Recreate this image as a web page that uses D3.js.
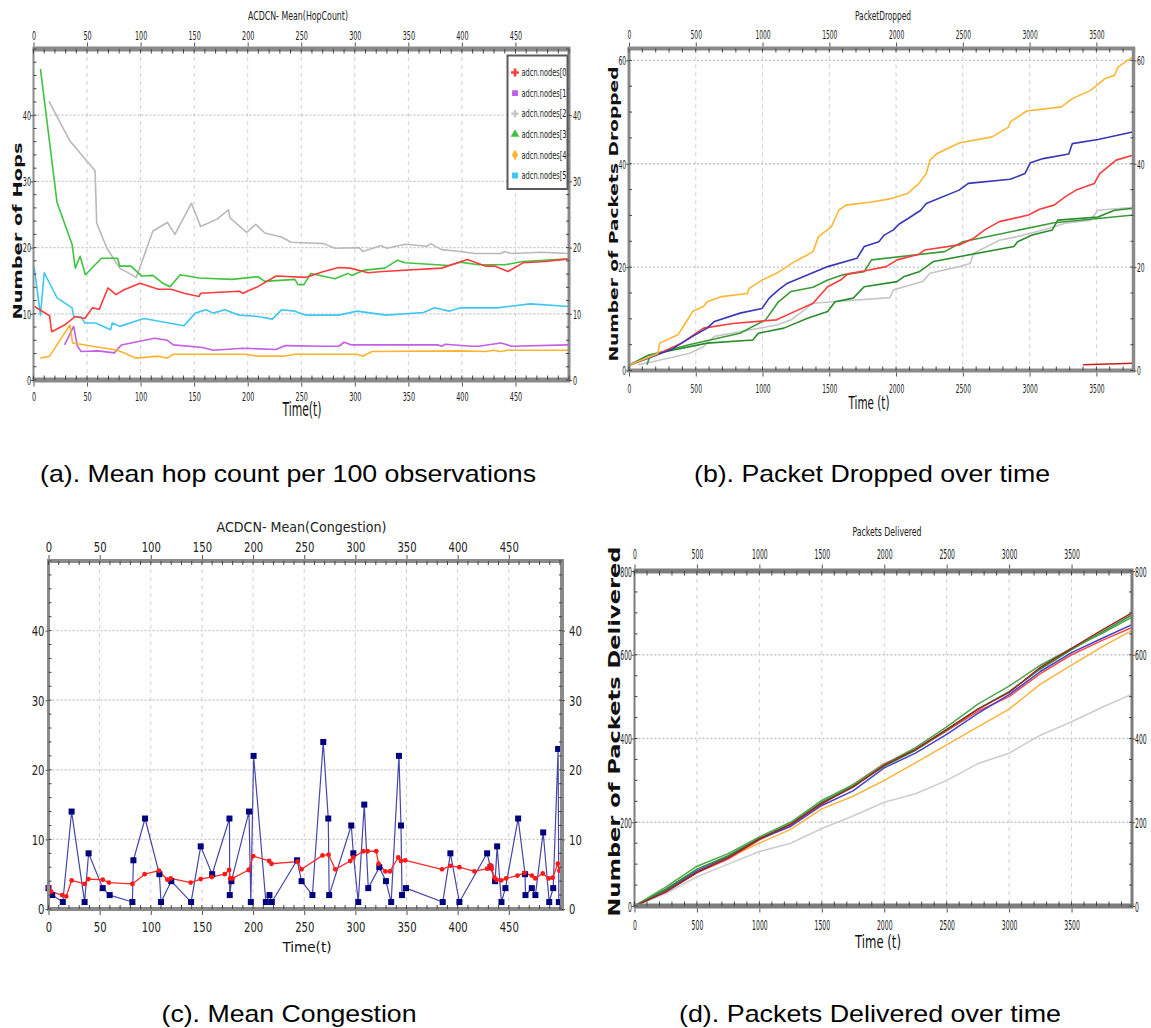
<!DOCTYPE html>
<html>
<head>
<meta charset="utf-8">
<script src="https://cdn.jsdelivr.net/npm/d3@7"></script>
<style>
body { margin: 0; background: #fff; }
svg { display: block; }
</style>
</head>
<body>
<svg id="fig" width="1151" height="1028"></svg>
<script>
// ---------- (a) mean hop count ----------
var hopTicksX = [0, 50, 100, 150, 200, 250, 300, 350, 400, 450];
var hopTicksY = [0, 10, 20, 30, 40];
var hopNames = ["adcn.nodes[0", "adcn.nodes[1", "adcn.nodes[2", "adcn.nodes[3", "adcn.nodes[4", "adcn.nodes[5"];
var hopNode0 = [[1,11.1],[15,9.7],[17,7.3],[29,8.3],[39,9.6],[48,9.3],[55,10.9],[61.5,10.7],[69.5,13.9],[77,12.9],[84,13.6],[99.5,14.6],[116.5,13.7],[128.5,13.7],[140.5,13.1],[154.5,12.6],[156,13.1],[192,13.4],[195.5,13.1],[209.5,14.1],[226.5,15.7],[254,15.5],[271,16.4],[285,17.0],[295.5,16.9],[312.5,16.2],[326,16.4],[381,16.9],[405,18.2],[422.5,17.2],[431,17.2],[443,16.4],[457,17.7],[477.5,17.9],[500,18.3]];
var hopNode1 = [[29,5.3],[37.5,8.1],[41,5.1],[44.5,4.3],[60,4.4],[75.5,4.1],[82,5.3],[113,6.3],[125,6.0],[130.5,5.3],[158,4.9],[168,4.5],[195.5,4.8],[226.5,4.6],[235,5.2],[271,5.1],[285,5.1],[290,5.7],[297,5.3],[378,5.3],[381,5.1],[384.5,5.4],[409,5.1],[415.5,5.1],[436.5,5.6],[446.5,5.1],[500,5.3]];
var hopNode2 = [[14.5,42.1],[34,36.1],[57.5,31.6],[59,23.7],[68.5,19.9],[80.5,16.9],[96,15.5],[111.5,22.5],[125,23.8],[132,22.0],[147.5,26.7],[156,23.2],[171.5,24.3],[182,25.7],[183.5,24.5],[199,22.3],[207.5,23.5],[216,22.2],[231.5,21.6],[240.5,20.8],[271,20.6],[281.5,19.9],[304,20.0],[307.5,19.4],[324.5,20.3],[330,19.9],[347,20.5],[367.5,20.2],[371,20.6],[381,19.7],[398.5,19.4],[412,19.1],[436.5,19.1],[440,19.4],[446.5,19.1],[474,19.3],[500,19.1]];
var hopNode3 = [[6.5,47.0],[22,26.8],[36,20.5],[39,16.9],[43.5,18.7],[48.5,15.9],[63.5,18.4],[78.5,18.4],[80.5,17.2],[91,17.2],[101,15.7],[111.5,15.8],[120,14.7],[127.5,14.1],[137,15.9],[154.5,15.4],[185.5,15.2],[209.5,15.6],[216,14.9],[244,15.2],[247,14.4],[252.5,14.4],[259,16.1],[281.5,15.3],[293.5,16.1],[297,15.8],[309,16.6],[328,16.9],[340,18.1],[347,17.7],[388,17.3],[398.5,17.8],[415.5,17.4],[440,17.4],[457,17.9],[500,18.3]];
var hopNode4 = [[6.5,3.3],[15,3.6],[34,8.3],[36.5,5.6],[78.5,4.5],[96,3.3],[116.5,3.6],[125,3.3],[130.5,3.9],[197.5,3.9],[209.5,3.6],[233.5,3.6],[244,3.9],[302,3.9],[307.5,3.6],[316,4.3],[398.5,4.4],[422.5,4.3],[429.5,4.5],[436.5,4.3],[443,4.5],[500,4.5]];
var hopNode5 = [[0.5,17.2],[6.5,9.8],[10,16.2],[22,12.4],[36,10.9],[37.5,9.6],[44.5,9.5],[48,8.6],[58,8.6],[72,7.6],[73.5,8.6],[80.5,8.1],[103,9.3],[140.5,8.2],[151,10.1],[161,10.6],[168,10.1],[178.5,10.6],[192,9.8],[209.5,9.6],[223,9.2],[231.5,10.6],[244,10.4],[254,9.8],[285,9.8],[302,10.4],[329.5,9.8],[364,10.2],[374.5,10.9],[388,10.4],[398.5,10.9],[433,10.9],[464,11.5],[500,11.1]];

// ---------- (b) packets dropped ----------
var dropTicksX = [0, 500, 1000, 1500, 2000, 2500, 3000, 3500];
var dropTicksY = [0, 20, 40, 60];
var dropOrange = [[0,1.0],[216,3.3],[230,5.3],[366,6.9],[421,9.1],[476,11.4],[558,12.4],[585,13.3],[695,14.3],[886,14.9],[900,15.9],[996,17.5],[1105,18.8],[1242,21.1],[1310,22.0],[1378,23.0],[1419,25.9],[1515,27.8],[1570,31.0],[1625,32.0],[1816,32.6],[1953,33.2],[2090,34.3],[2172,36.2],[2226,38.1],[2254,40.7],[2308,42.0],[2472,44.0],[2719,45.2],[2842,47.1],[2855,48.1],[2978,50.2],[3238,51.0],[3320,52.6],[3457,54.2],[3566,56.5],[3635,57.1],[3662,58.7],[3717,59.7],[3780,60.7]];
var dropBlue = [[0,1.0],[312,4.0],[476,6.6],[585,8.2],[640,9.5],[832,11.1],[996,12.0],[1050,14.0],[1119,15.6],[1187,16.9],[1488,20.1],[1707,21.7],[1762,24.0],[1871,24.9],[1912,26.2],[1980,27.2],[2021,28.3],[2090,29.4],[2185,31.0],[2226,32.3],[2472,34.9],[2541,36.2],[2855,37.0],[2965,38.1],[3006,40.2],[3101,41.0],[3293,41.9],[3320,43.9],[3512,44.7],[3780,46.2]];
var dropRed = [[0,1.0],[175,2.7],[394,5.3],[558,8.2],[777,9.1],[1105,9.8],[1214,11.1],[1378,13.0],[1488,16.2],[1584,17.5],[1639,18.7],[1789,19.4],[1926,20.1],[2008,21.4],[2172,22.5],[2213,23.3],[2472,24.3],[2582,25.6],[2664,27.2],[2773,28.8],[2992,30.1],[3074,31.2],[3183,32.0],[3266,33.6],[3348,34.9],[3485,36.2],[3525,38.1],[3648,40.7],[3780,41.7]];
var dropGreenA = [[134,1.1],[161,3.0],[449,5.0],[831,7.2],[1023,9.8],[1119,13.3],[1214,15.3],[1378,16.1],[1488,17.5],[1597,18.5],[1761,19.1],[1816,21.4],[2363,23.0],[2500,24.9],[3184,28.6],[3780,30.1]];
var dropGreenB = [[0,1.0],[148,3.0],[585,5.3],[927,5.9],[968,7.2],[1160,8.2],[1337,10.1],[1488,11.4],[1543,13.3],[1679,14.0],[1761,16.2],[2007,17.2],[2062,18.2],[2172,19.1],[2281,21.1],[2883,24.0],[2910,24.9],[3019,26.2],[3170,27.2],[3211,29.1],[3512,29.7],[3635,31.0],[3780,31.4]];
var dropGray = [[66,1.1],[175,1.7],[449,3.3],[558,4.6],[640,6.6],[832,7.5],[1105,8.8],[1214,9.8],[1378,13.0],[1953,14.1],[1980,15.6],[2199,17.2],[2254,18.8],[2472,20.1],[2554,20.7],[2582,22.7],[2773,25.2],[2910,25.9],[3101,27.2],[3266,28.5],[3457,29.1],[3512,31.0],[3780,31.6]];
var dropDarkRed = [[3400,1.1],[3780,1.4]];

// ---------- (c) mean congestion ----------
var congTicksX = [0, 50, 100, 150, 200, 250, 300, 350, 400, 450];
var congTicksY = [0, 10, 20, 30, 40];
var congBlue = [[0,3],[3.6,2],[14,1],[22.6,14],[35.3,1],[39.2,8],[53,3],[59.8,2],[82,1],[83,7],[94.4,13],[108.4,5],[110,1],[120,4],[139.4,1],[148.8,9],[160,5],[176.9,13],[177.2,2],[178.8,4],[196,14],[197.8,1],[200.5,22],[212.5,1],[216,2],[218.3,1],[243,7],[247.4,4],[258,2],[268.6,24],[273.5,13],[274.4,2],[296,12],[298,8],[302.8,1],[308.7,15],[312.6,3],[323.4,6],[329.9,4],[335,1],[342.6,22],[344.6,12],[345.6,2],[349.5,3],[385.4,1],[392.9,8],[401.7,1],[428.8,8],[432,6],[436.6,4],[438.6,9],[442.8,1],[446.7,3],[459.1,13],[465.9,5],[466.3,2],[472.5,3],[476,2],[483.6,11],[489.5,1],[493.4,3],[498.2,23],[498.9,1]];
var congRed = [[0,3],[2.6,2.5],[13.4,2.0],[17.3,1.8],[22.6,4.1],[35.3,3.6],[39,4.3],[53,4.2],[59.1,3.8],[82,3.6],[94,5.0],[108,5.5],[116.2,4.2],[119.5,4.4],[139,3.8],[148.8,4.3],[159.6,4.6],[172.3,5.0],[176.6,5.6],[177.6,4.4],[179.9,4.4],[195.6,5.6],[200.1,7.6],[215.7,6.9],[218,6.5],[243.4,6.8],[247.4,5.7],[267.9,7.7],[273.8,7.8],[280.3,5.7],[295,6.9],[297.9,7.4],[307.7,8.3],[311.9,8.3],[320.4,8.3],[322.7,6.5],[329.3,5.4],[333.8,5.4],[341.9,7.4],[344.6,6.9],[348.8,7.0],[384.7,5.7],[392.9,6.2],[401.7,6.0],[416.4,5.4],[428.8,5.8],[432,6.3],[433.3,5.8],[436,4.5],[438,4.2],[442.5,4.1],[447.4,4.4],[458.5,4.8],[465.3,5.2],[472.5,4.8],[475.8,4.4],[483.2,5.1],[489,4.4],[492.9,4.5],[497.9,6.5],[499.5,5.5]];

// ---------- (d) packets delivered ----------
var delivTicksX = [0, 500, 1000, 1500, 2000, 2500, 3000, 3500];
var delivTicksY = [0, 200, 400, 600, 800];
var delivTime   = [0, 250, 500, 750, 1000, 1250, 1500, 1750, 2000, 2250, 2500, 2750, 3000, 3250, 3500, 3750, 3984];
var delivGray   = [0, 30, 70, 100, 130, 150, 185, 215, 248, 268, 300, 340, 365, 408, 440, 475, 506];
var delivOrange = [0, 36, 80, 115, 150, 183, 232, 262, 300, 342, 385, 428, 470, 530, 575, 620, 658];
var delivRed    = [0, 35, 80, 112, 158, 193, 243, 290, 340, 372, 418, 465, 500, 555, 600, 635, 665];
var delivBlue   = [0, 38, 84, 118, 160, 190, 240, 275, 330, 365, 410, 460, 505, 560, 605, 640, 672];
var delivGreenA = [0, 45, 95, 125, 165, 200, 252, 290, 338, 378, 428, 482, 525, 575, 615, 652, 690];
var delivGreenB = [0, 40, 88, 120, 162, 196, 248, 286, 334, 372, 420, 470, 512, 566, 612, 655, 695];
var delivBrown  = [0, 33, 80, 115, 160, 195, 245, 284, 336, 374, 422, 470, 510, 570, 615, 660, 700];

var svg = d3.select("#fig");
var narrow = "'DejaVu Sans Condensed','DejaVu Sans',sans-serif";
var plain = d3.format("d");

function buildPanel(p) {
    var g = svg.append("g");
    var x = d3.scaleLinear().domain(p.xDomain).range([p.left, p.right]);
    var y = d3.scaleLinear().domain(p.yDomain).range([p.bottom, p.top]);

    g.append("g").selectAll("line")
        .data(p.xTicks.filter(function(d) { return d > 0; }))
        .enter().append("line")
            .attr("x1", function(d) { return x(d); })
            .attr("x2", function(d) { return x(d); })
            .attr("y1", p.top).attr("y2", p.bottom)
            .attr("stroke", "#d0d0d0").attr("stroke-dasharray", "4,4");
    g.append("g").selectAll("line")
        .data(p.yTicks.filter(function(d) { return d > 0; }))
        .enter().append("line")
            .attr("x1", p.left).attr("x2", p.right)
            .attr("y1", function(d) { return y(d); })
            .attr("y2", function(d) { return y(d); })
            .attr("stroke", "#c4c4c4").attr("stroke-width", 1.3).attr("stroke-dasharray", "2,2");

    var plot = g.append("g");
    return {g: g, plot: plot, x: x, y: y, p: p};
}

function styleTicks(sel, P, horizontal, offset, anchor) {
    var p = P.p;
    sel.select(".domain").remove();
    sel.selectAll(".tick line").attr("stroke", "#555");
    var t = sel.selectAll(".tick text")
        .attr("font-family", p.font).attr("font-size", p.fontSize)
        .attr("fill", "#222").attr("text-anchor", anchor)
        .attr("textLength", function() { return this.textContent.length * p.digitW; })
        .attr("lengthAdjust", "spacingAndGlyphs");
    if (horizontal) {
        t.attr("y", offset).attr("dy", "0.36em");
    } else {
        t.attr("x", offset).attr("dy", "0.36em");
    }
}

function finishPanel(P) {
    var p = P.p, g = P.g, x = P.x, y = P.y;
    var frame = g.append("g");

    [p.left, p.right].forEach(function(xx, i) {
        frame.append("rect")
            .attr("x", xx - p.side[i] / 2).attr("y", p.top)
            .attr("width", p.side[i]).attr("height", p.bottom - p.top)
            .attr("fill", p.frameColor);
    });
    [p.top, p.bottom].forEach(function(yy) {
        frame.append("rect")
            .attr("x", p.left - p.side[0] / 2).attr("y", yy - p.band / 2)
            .attr("width", p.right - p.left + (p.side[0] + p.side[1]) / 2).attr("height", p.band)
            .attr("fill", p.frameColor);
    });

    // minor ticks on the frame
    var mx = x.ticks(p.xMinor).filter(function(d) { return d <= p.xDomain[1]; });
    var my = y.ticks(p.yMinor);
    [[p.top, 1], [p.bottom, -1]].forEach(function(s) {
        frame.append("g").selectAll("line").data(mx).enter().append("line")
            .attr("x1", function(d) { return x(d); }).attr("x2", function(d) { return x(d); })
            .attr("y1", s[0]).attr("y2", s[0] + s[1] * (p.band / 2 + 2))
            .attr("stroke", "#444").attr("stroke-width", 1);
    });
    [[p.left, 1], [p.right, -1]].forEach(function(s) {
        frame.append("g").selectAll("line").data(my).enter().append("line")
            .attr("y1", function(d) { return y(d); }).attr("y2", function(d) { return y(d); })
            .attr("x1", s[0]).attr("x2", s[0] + s[1] * 3)
            .attr("stroke", "#444").attr("stroke-width", 1);
    });

    var yTop = p.top - p.band / 2, yBot = p.bottom + p.band / 2;
    g.append("g").attr("transform", "translate(0," + yTop + ")")
        .call(d3.axisTop(x).tickValues(p.xTicks).tickFormat(plain).tickSize(4).tickSizeOuter(0))
        .call(styleTicks, P, true, p.topLabelY - yTop, "middle");
    g.append("g").attr("transform", "translate(0," + yBot + ")")
        .call(d3.axisBottom(x).tickValues(p.xTicks).tickFormat(plain).tickSize(4).tickSizeOuter(0))
        .call(styleTicks, P, true, p.bottomLabelY - yBot, "middle");
    g.append("g").attr("transform", "translate(" + p.left + ",0)")
        .call(d3.axisLeft(y).tickValues(p.yTicks).tickFormat(plain).tickSize(3).tickSizeOuter(0))
        .call(styleTicks, P, false, p.leftLabelX - p.left, "end");
    var right = g.append("g").attr("transform", "translate(" + p.right + ",0)")
        .call(d3.axisRight(y).tickValues(p.yTicks).tickFormat(plain).tickSize(3).tickSizeOuter(0))
        .call(styleTicks, P, false, p.rightLabelX - p.right, "start");
    if (p.rightClip) {
        svg.append("clipPath").attr("id", p.id + "-rc").append("rect")
            .attr("x", -10).attr("y", 0).attr("width", p.rightClip - p.right + 10).attr("height", 1028);
        right.attr("clip-path", "url(#" + p.id + "-rc)");
    }

    // titles
    g.append("text").attr("x", p.title[1]).attr("y", p.title[2])
        .attr("text-anchor", "middle").attr("dy", "0.36em")
        .attr("font-family", narrow).attr("font-size", p.title[3]).attr("fill", "#222")
        .attr("textLength", p.title[4]).attr("lengthAdjust", "spacingAndGlyphs")
        .text(p.title[0]);
    g.append("text").attr("x", p.xTitle[1]).attr("y", p.xTitle[2])
        .attr("text-anchor", "middle").attr("dy", "0.36em")
        .attr("font-family", narrow).attr("font-size", p.xTitle[3]).attr("fill", "#111")
        .attr("textLength", p.xTitle[4]).attr("lengthAdjust", "spacingAndGlyphs")
        .text(p.xTitle[0]);
    if (p.yTitle) {
        g.append("text")
            .attr("transform", "translate(" + p.yTitle[1] + "," + p.yTitle[2] + ") rotate(-90)")
            .attr("text-anchor", "middle").attr("dy", "0.36em")
            .attr("font-family", "'DejaVu Sans',sans-serif").attr("font-weight", "bold")
            .attr("font-size", p.yTitle[3]).attr("fill", "#111")
            .attr("textLength", p.yTitle[4]).attr("lengthAdjust", "spacingAndGlyphs")
            .text(p.yTitle[0]);
    }
}

function addLine(P, data, color, width) {
    P.plot.append("path")
        .datum(data)
        .attr("fill", "none")
        .attr("stroke", color)
        .attr("stroke-width", width)
        .attr("stroke-linejoin", "round")
        .attr("d", d3.line().x(function(d) { return P.x(d[0]); }).y(function(d) { return P.y(d[1]); }));
}

// ----- panel (a)
var A = buildPanel({
    id: "a", left: 33.5, right: 569, top: 49, bottom: 380,
    xDomain: [0, 500], yDomain: [0, 50], xTicks: hopTicksX, yTicks: hopTicksY,
    xMinor: 50, yMinor: 25, band: 5, side: [2, 3], frameColor: "#8a8a8a",
    font: narrow, fontSize: 12, digitW: 4.1,
    topLabelY: 36, bottomLabelY: 397, leftLabelX: 31, rightLabelX: 573,
    title: ["ACDCN- Mean(HopCount)", 298, 16, 12, 100],
    xTitle: ["Time(t)", 302, 409, 19, 39],
    yTitle: ["Number of Hops", 17, 231, 13, 177]
});
var hopSeries = [hopNode0, hopNode1, hopNode2, hopNode3, hopNode4, hopNode5];
var hopColors = ["#ff3b3b", "#c35ee6", "#b9b9b9", "#3fc43f", "#ffb42e", "#3fc6f3"];
[2, 3, 5, 1, 4, 0].forEach(function(i) { addLine(A, hopSeries[i], hopColors[i], 1.6); });
finishPanel(A);

// legend
var leg = A.g.append("g");
svg.append("clipPath").attr("id", "legclip").append("rect")
    .attr("x", 507.5).attr("y", 55.5).attr("width", 59).attr("height", 133.5);
leg.append("rect").attr("x", 507.5).attr("y", 55.5).attr("width", 60).attr("height", 133.5)
    .attr("fill", "#fff").attr("stroke", "#5a5a5a").attr("stroke-width", 2);
var legSymbols = [d3.symbolCross, d3.symbolSquare, d3.symbolCross, d3.symbolTriangle, d3.symbolDiamond, d3.symbolSquare];
var legY = d3.scalePoint().domain(hopNames).range([72.5, 175.5]);
var legItems = leg.append("g").attr("clip-path", "url(#legclip)");
legItems.selectAll("path").data(hopNames).enter().append("path")
    .attr("transform", function(d) { return "translate(515," + legY(d) + ")"; })
    .attr("d", function(d, i) { return d3.symbol().type(legSymbols[i]).size(i === 2 ? 30 : 34)(); })
    .attr("fill", function(d, i) { return i === 2 ? "#c8c8c8" : hopColors[i]; });
legItems.selectAll("text").data(hopNames).enter().append("text")
    .attr("x", 521.5).attr("y", function(d) { return legY(d); }).attr("dy", "0.36em")
    .attr("font-family", narrow).attr("font-size", 10).attr("fill", "#222")
    .attr("textLength", 45).attr("lengthAdjust", "spacingAndGlyphs")
    .text(function(d) { return d; });

// ----- panel (b)
var B = buildPanel({
    id: "b", left: 629, right: 1133.5, top: 48.5, bottom: 370.5,
    xDomain: [0, 3778], yDomain: [0, 62.3], xTicks: dropTicksX, yTicks: dropTicksY,
    xMinor: 38, yMinor: 16, band: 4, side: [3, 3.5], frameColor: "#8a8a8a",
    font: narrow, fontSize: 12, digitW: 3.8,
    topLabelY: 35, bottomLabelY: 388.5, leftLabelX: 626, rightLabelX: 1137, rightClip: 1146,
    title: ["PacketDropped", 883, 15.5, 12, 56],
    xTitle: ["Time (t)", 869, 403, 18, 41],
    yTitle: ["Number of Packets Dropped", 613.5, 214, 13, 295]
});
addLine(B, dropGray, "#c6c6c6", 1.6);
addLine(B, dropGreenB, "#2a8c2a", 1.6);
addLine(B, dropGreenA, "#3a9a3a", 1.6);
addLine(B, dropRed, "#ff3b3b", 1.6);
addLine(B, dropBlue, "#3737b8", 1.6);
addLine(B, dropOrange, "#ffb634", 1.6);
addLine(B, dropDarkRed, "#c41e1e", 1.6);
finishPanel(B);

// ----- panel (c)
var C = buildPanel({
    id: "c", left: 48.5, right: 562, top: 561, bottom: 909,
    xDomain: [0, 502], yDomain: [0, 50], xTicks: congTicksX, yTicks: congTicksY,
    xMinor: 50, yMinor: 25, band: 4, side: [3, 4], frameColor: "#8a8a8a",
    font: narrow, fontSize: 13.5, digitW: 6.4,
    topLabelY: 546.7, bottomLabelY: 926.7, leftLabelX: 44.5, rightLabelX: 569,
    title: ["ACDCN- Mean(Congestion)", 301.5, 527, 14, 170],
    xTitle: ["Time(t)", 307, 947, 13.5, 49]
});
addLine(C, congBlue, "#4646aa", 1.2);
addLine(C, congRed, "#ff2a2a", 1.3);
C.plot.append("g").selectAll("rect").data(congBlue).enter().append("rect")
    .attr("x", function(d) { return C.x(d[0]) - 3; })
    .attr("y", function(d) { return C.y(d[1]) - 3; })
    .attr("width", 6).attr("height", 6).attr("fill", "#00007e");
C.plot.append("g").selectAll("circle").data(congRed).enter().append("circle")
    .attr("cx", function(d) { return C.x(d[0]); })
    .attr("cy", function(d) { return C.y(d[1]); })
    .attr("r", 2.4).attr("fill", "#ff1a1a");
finishPanel(C);

// ----- panel (d)
var D = buildPanel({
    id: "d", left: 634.5, right: 1132, top: 571, bottom: 906,
    xDomain: [0, 3984], yDomain: [0, 800], xTicks: delivTicksX, yTicks: delivTicksY,
    xMinor: 40, yMinor: 20, band: 5, side: [2, 3], frameColor: "#7c7c7c",
    font: narrow, fontSize: 14, digitW: 3.9,
    topLabelY: 554, bottomLabelY: 925, leftLabelX: 632, rightLabelX: 1135,
    title: ["Packets Delivered", 887, 531, 12.5, 69],
    xTitle: ["Time (t)", 878, 942, 18, 46],
    yTitle: ["Number of Packets Delivered", 614.5, 731.5, 15, 370]
});
function delivPoints(vals) {
    return delivTime.map(function(t, i) { return [t, vals[i]]; });
}
addLine(D, delivPoints(delivGray), "#cdcdcd", 1.6);
addLine(D, delivPoints(delivOrange), "#ffb23c", 1.5);
addLine(D, delivPoints(delivRed), "#ff4848", 1.5);
addLine(D, delivPoints(delivBlue), "#4343cc", 1.5);
addLine(D, delivPoints(delivGreenB), "#2f8f2f", 1.5);
addLine(D, delivPoints(delivGreenA), "#4aa84a", 1.5);
addLine(D, delivPoints(delivBrown), "#9b2323", 1.5);
finishPanel(D);

// ----- captions
var captions = [
    ["(a). Mean hop count per 100 observations", 288, 473, 496],
    ["(b). Packet Dropped over time", 872, 473, 356],
    ["(c). Mean Congestion", 289, 1013, 255],
    ["(d). Packets Delivered over time", 870, 1013, 382]
];
svg.append("g").selectAll("text").data(captions).enter().append("text")
    .attr("x", function(d) { return d[1]; })
    .attr("y", function(d) { return d[2]; })
    .attr("dy", "0.36em").attr("text-anchor", "middle")
    .attr("font-family", "'Liberation Sans',Arial,sans-serif").attr("font-size", 24).attr("fill", "#000")
    .attr("textLength", function(d) { return d[3]; }).attr("lengthAdjust", "spacingAndGlyphs")
    .text(function(d) { return d[0]; });
</script>
</body>
</html>
